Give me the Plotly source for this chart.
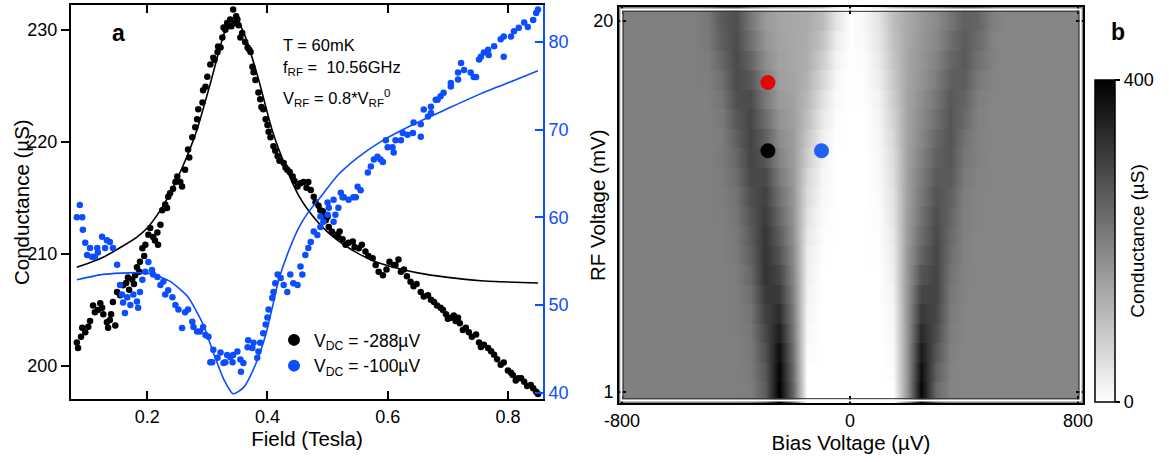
import numpy as np
import plotly.graph_objects as go

# ---------------- panel a : data ----------------
black_field = [0.083,0.085,0.092,0.097,0.102,0.110,0.113,0.118,0.122,0.127,0.133,0.135,0.138,0.143,0.150,0.155,0.160,0.168,0.175,0.180,
               0.183,0.188,0.192,0.197,0.202,0.205,0.210,0.217,0.218,0.225,0.230,0.233,0.235,0.238,0.247,0.255,0.263,0.268,0.275,0.280,
               0.285,0.292,0.293,0.300,0.305,0.310,0.317,0.318,0.325,0.327,0.333,0.343,0.338,0.348,0.352,0.358,0.363,0.367,0.372,0.375,
               0.380,0.385,0.388,0.393,0.397,0.405,0.410,0.417,0.427,0.433,0.442,0.450,0.460,0.472,0.477,0.480,0.488,0.492,0.497,0.500,
               0.502,0.513,0.525,0.530,0.542,0.552,0.563,0.575,0.585,0.592,0.610,0.618,0.627,0.638,0.643,0.655,0.667,0.677,0.688,0.697,
               0.705,0.717,0.725,0.735,0.747,0.755,0.767,0.777,0.788,0.800,0.808,0.817,0.827,0.838,0.847,
               0.632,0.648,0.660,0.672,0.682,0.692,0.700,0.710,0.713,0.720,0.730,0.740,0.752,0.760,0.772,0.782,0.793,0.805,0.813,0.822,
               0.832,0.842,0.850,0.485,0.495,0.507,0.518,0.520,0.535,0.545,0.557,0.568,0.580,0.598,0.603,0.613,0.622,
               0.090,0.105,0.125,0.140,0.147,0.165,0.170,0.178,0.187,0.195,0.213,0.222,0.243,0.250,0.258,0.270,0.283,0.297,0.312,0.322,
               0.330,0.335,0.340,0.345,0.350,0.355,0.370,0.377,0.390,0.400,0.402,0.413,0.420,0.430,0.437,0.445,0.455,0.465,0.468]
black_g = [202.1,201.6,203.4,203.0,203.5,205.4,204.8,205.0,205.6,204.6,203.9,203.4,204.1,205.7,206.6,206.3,207.2,207.9,207.7,208.1,
           208.8,209.3,210.5,210.8,211.7,212.3,211.5,211.9,210.8,213.9,214.4,214.1,215.1,215.4,216.4,216.4,217.5,219.3,220.4,221.3,
           222.9,223.5,224.6,225.8,226.9,227.5,228.0,228.5,229.3,230.2,230.6,231.8,230.9,231.2,230.4,229.7,228.9,228.4,228.0,226.7,
           225.5,224.4,223.8,222.9,222.0,220.4,219.6,218.7,218.1,217.5,216.9,216.0,216.4,215.7,215.1,214.6,213.9,213.8,213.0,213.3,
           212.4,211.7,211.3,210.8,211.1,210.5,210.2,209.6,208.4,208.1,209.0,209.5,208.6,207.5,207.1,206.6,206.3,205.7,205.2,204.6,
           204.3,204.3,203.2,203.0,202.8,201.7,201.6,201.0,200.1,199.6,199.2,198.9,198.6,198.3,197.7,
           208.0,207.3,206.2,205.9,205.4,205.0,204.2,204.5,204.0,203.8,203.4,202.6,202.1,201.9,201.3,200.6,200.3,199.4,198.7,198.9,
           198.2,198.0,197.5,214.3,213.5,212.0,211.5,212.0,211.0,210.6,210.8,209.8,209.0,208.6,209.3,209.0,208.4,
           202.6,204.0,205.2,204.6,203.6,207.4,206.8,207.3,208.4,209.8,211.2,212.6,215.8,216.9,216.0,218.6,222.0,224.9,227.3,228.4,
           230.0,230.3,230.3,230.6,230.9,229.3,228.2,226.2,223.1,221.5,220.9,219.2,218.3,217.7,217.3,216.5,216.3,215.9,216.4]

blue_field = [0.088,0.083,0.092,0.093,0.097,0.100,0.105,0.108,0.113,0.117,0.118,0.125,0.130,0.133,0.138,0.143,0.150,0.155,0.158,0.160,
              0.163,0.167,0.172,0.177,0.183,0.185,0.188,0.192,0.197,0.202,0.208,0.210,0.217,0.222,0.227,0.230,0.235,0.242,0.247,0.252,
              0.258,0.263,0.268,0.275,0.277,0.283,0.288,0.293,0.297,0.302,0.305,0.308,0.310,0.317,0.322,0.327,0.330,0.333,0.338,0.342,
              0.343,0.350,0.355,0.356,0.360,0.367,0.368,0.375,0.377,0.383,0.385,0.388,0.393,0.397,0.400,0.402,0.408,0.410,0.413,0.417,
              0.422,0.427,0.433,0.438,0.443,0.450,0.455,0.458,0.463,0.468,0.472,0.477,0.483,0.488,0.493,0.500,0.502,0.510,0.513,0.518,
              0.525,0.535,0.547,0.488,0.500,0.510,0.522,0.527,0.543,0.550,0.555,0.567,0.572,0.577,0.583,0.588,0.597,0.600,0.608,0.613,
              0.625,0.633,0.642,0.643,0.655,0.660,0.667,0.672,0.680,0.688,0.693,0.705,0.717,0.722,0.727,0.738,0.743,0.752,0.760,0.768,
              0.777,0.788,0.793,0.805,0.810,0.818,0.827,0.833,0.842,0.847,0.850,
              0.592,0.610,0.622,0.655,0.672,0.683,0.705,0.717,0.747,0.755,0.767,0.793]
blue_v = [61.4,60.0,60.0,58.6,57.1,55.7,56.5,55.5,55.5,56.5,56.0,57.8,56.5,57.4,57.2,56.5,54.6,52.3,51.2,50.3,
          49.1,50.9,50.0,51.2,50.4,49.7,51.5,52.9,53.8,54.9,54.0,53.5,53.2,52.3,52.7,51.2,51.7,50.9,50.0,49.5,
          47.4,49.2,49.5,48.1,47.5,47.0,47.0,47.5,46.6,46.4,43.5,43.5,44.9,44.0,44.6,43.4,43.5,44.3,44.1,43.5,
          44.3,44.7,43.8,42.4,43.4,45.2,46.0,45.1,45.7,44.0,44.7,45.7,46.8,47.8,48.6,49.5,50.8,51.5,52.5,53.5,
          53.1,52.3,51.5,53.5,52.5,52.3,54.4,53.5,55.7,56.5,57.2,58.4,58.0,58.9,59.5,60.3,61.1,59.5,60.3,61.1,
          62.3,62.0,62.3,60.1,61.7,62.0,62.8,62.3,62.3,63.5,63.1,65.1,65.8,66.6,66.9,66.6,68.8,68.0,68.0,68.8,
          69.6,69.4,69.6,70.8,70.6,72.3,71.5,72.6,73.4,73.8,74.2,75.3,76.5,77.6,76.8,76.5,76.0,78.0,78.8,78.5,
          79.5,80.3,80.6,80.6,81.2,81.6,82.2,81.7,82.5,83.3,83.7,
          66.3,67.4,68.8,69.2,71.9,73.4,74.9,75.7,76.0,78.3,79.1,78.3]

black_fit_field = [0.083,0.127,0.183,0.200,0.222,0.240,0.260,0.283,0.305,0.322,0.333,0.342,0.350,0.363,0.385,0.408,0.430,0.452,
                   0.475,0.497,0.525,0.552,0.580,0.610,0.650,0.700,0.755,0.850]
black_fit_g = [208.8,209.7,211.5,212.3,213.9,215.6,217.9,221.1,225.2,228.6,230.4,231.0,230.8,229.4,225.6,221.0,217.8,215.2,
               213.4,212.1,210.9,210.0,209.3,208.8,208.3,207.9,207.6,207.4]
blue_fit_field = [0.083,0.127,0.183,0.210,0.238,0.267,0.293,0.310,0.327,0.343,0.360,0.380,0.397,0.408,0.418,0.435,0.452,0.468,
                  0.488,0.517,0.550,0.588,0.643,0.700,0.755,0.810,0.850]
blue_fit_v = [52.9,53.5,53.7,53.5,52.7,51.0,47.8,44.6,41.6,39.9,40.6,43.2,46.6,49.7,52.7,56.1,58.8,60.6,
              62.3,64.8,66.8,68.6,70.6,72.4,74.1,75.6,76.7]

# ---------------- panel b : data ----------------
bias_uV = [-800,-750,-700,-650,-600,-550,-500,-450,-400,-350,-300,-250,-200,-150,-100,-50,0,
           50,100,150,200,250,300,350,400,450,500,550,600,650,700,750,800]
rf_mV = list(range(1, 21))
conductance = [
    [200]*8 + [200,202,255,400,240,0, 0,0,0,0,0, 0,165,390,235,193] + [190]*9,
    [200]*8 + [200,205,262,392,230,0, 0,0,0,0,0, 5,165,378,250,196] + [190]*9,
    [200]*8 + [200,208,272,378,222,5, 0,0,0,0,0, 8,165,360,265,200] + [190]*9,
    [200]*8 + [201,212,285,355,212,10, 0,0,0,0,0, 12,165,335,280,204, 191] + [190]*8,
    [200]*8 + [202,218,298,330,205,15, 0,0,0,0,0, 15,165,312,290,208, 192] + [190]*8,
    [200]*8 + [203,225,310,310,198,20, 0,0,0,0,0, 20,164,292,294,214, 193] + [190]*8,
    [200]*8 + [205,235,320,290,190,25, 0,0,0,0,0, 25,162,268,294,220, 194] + [190]*8,
    [200]*8 + [208,245,320,272,182,30, 2,0,0,0,2, 30,160,245,290,228, 196] + [190]*8,
    [200]*8 + [210,255,316,255,175,38, 5,0,0,0,4, 35,155,232,285,235, 198,191] + [190]*7,
    [200]*7 + [202, 214,265,308,240,170,45, 8,0,0,0,6, 40,152,222,278,242, 200,192] + [190]*7,
    [200]*7 + [203, 220,275,298,225,165,55, 12,0,0,0,8, 45,150,212,270,250, 203,193] + [190]*7,
    [200]*7 + [205, 228,285,285,210,160,65, 16,0,0,0,10, 50,148,205,260,258, 208,195] + [190]*7,
    [200]*7 + [208, 238,292,268,195,158,78, 20,0,0,0,12, 55,146,196,248,265, 215,197] + [190]*7,
    [200]*7 + [205, 250,294,250,182,155,90, 28,2,0,0,15, 62,145,188,238,268, 222,195] + [190]*7,
    [200]*7 + [210, 262,290,230,170,150,102, 38,5,0,0,18, 70,143,182,226,266, 235,198] + [190]*7,
    [200]*7 + [218, 275,282,212,160,146,112, 50,8,0,2,22, 78,142,176,215,260, 245,202,191] + [190]*6,
    [200]*6 + [202,228, 282,265,195,152,142,120, 65,12,0,4,28, 85,140,170,205,250, 255,210,193] + [190]*6,
    [200]*6 + [205,240, 283,245,180,148,140,126, 80,20,0,6,34, 92,139,166,196,238, 260,222,196] + [190]*6,
    [200]*6 + [210,252, 280,228,168,145,138,130, 95,30,2,9,40, 98,137,163,188,226, 258,232,195] + [190]*6,
    [200]*6 + [215,260, 276,215,160,142,136,132, 108,42,4,12,45, 102,135,160,182,215, 250,242,200] + [190]*6,
]
dot_bias = [-288, -288, -100]
dot_rf = [16.85, 13.36, 13.36]
dot_colors = ["#dd0a0a", "#000000", "#1f62f0"]

BLUE = "#0b4dff"
FONT = "Liberation Sans, Arial, sans-serif"
TICK = 18
TITLE = 20.5

fig = go.Figure()

# panel a traces
fig.add_trace(go.Scatter(x=blue_field, y=blue_v, mode="markers", yaxis="y2", xaxis="x",
                         marker=dict(color=BLUE, size=6.5), name="V<sub>DC</sub> = -100µV"))
fig.add_trace(go.Scatter(x=black_field, y=black_g, mode="markers", xaxis="x", yaxis="y",
                         marker=dict(color="black", size=6.5), name="V<sub>DC</sub> = -288µV"))
fig.add_trace(go.Scatter(x=black_fit_field, y=black_fit_g, mode="lines", xaxis="x", yaxis="y",
                         line=dict(color="black", width=1.6, shape="spline", smoothing=0.6), showlegend=False))
fig.add_trace(go.Scatter(x=blue_fit_field, y=blue_fit_v, mode="lines", xaxis="x", yaxis="y2",
                         line=dict(color=BLUE, width=1.6, shape="spline", smoothing=0.6), showlegend=False))

# panel b heatmap: rows kept as flat bands (each row repeated at its lower and upper edge)
z = np.array(conductance, dtype=float)
z_rep = np.repeat(z, 2, axis=0)
y_rep = []
for r in rf_mV:
    y_rep += [r - 0.49, r + 0.49]
fig.add_trace(go.Heatmap(
    x=bias_uV, y=y_rep, z=z_rep, xaxis="x2", yaxis="y3",
    zmin=0, zmax=400, zsmooth="best",
    colorscale=[[0, "#ffffff"], [1, "#000000"]],
    colorbar=dict(
        x=1095/1169, xanchor="left", xpad=0, y=1-241/462, yanchor="middle",
        len=322/462, lenmode="fraction", thickness=20, thicknessmode="pixels",
        outlinewidth=1.5, outlinecolor="black", ypad=0,
        tickvals=[0, 400], ticks="outside", ticklen=5, tickwidth=1.5, tickcolor="black",
        tickfont=dict(size=TICK, color="black", family=FONT),
        title=dict(text="Conductance (µS)", side="right", font=dict(size=19, color="black", family=FONT)),
    ),
    showlegend=False,
))
fig.add_trace(go.Scatter(x=dot_bias, y=dot_rf, mode="markers", xaxis="x2", yaxis="y3",
                         marker=dict(color=dot_colors, size=15, symbol="circle"), showlegend=False))

axis_common = dict(showgrid=False, zeroline=False, showline=True, linecolor="black", linewidth=2,
                   tickcolor="black", tickwidth=1.5, automargin=False,
                   tickfont=dict(size=TICK, color="black", family=FONT))

fig.update_layout(
    width=1169, height=462,
    margin=dict(l=0, r=0, t=0, b=0, autoexpand=False),
    paper_bgcolor="white", plot_bgcolor="white",
    font=dict(family=FONT, size=17, color="black"),
    xaxis=dict(domain=[71/1169, 543/1169], range=[0.0733, 0.8583], anchor="y",
               tickvals=[0.2, 0.4, 0.6, 0.8], ticktext=["0.2", "0.4", "0.6", "0.8"], ticks="inside", ticklen=8,
               mirror="ticks", title=dict(text="Field (Tesla)", standoff=5, font=dict(size=TITLE)), **axis_common),
    yaxis=dict(domain=[1-399/462, 1-5/462], range=[197.05, 232.2], anchor="x",
               tickvals=[200, 210, 220, 230], ticks="outside", ticklen=8, **axis_common),
    yaxis2=dict(overlaying="y", side="right", anchor="x", range=[39.3, 84.2],
                tickvals=[40, 50, 60, 70, 80], ticks="inside", ticklen=8, automargin=False,
                showgrid=False, zeroline=False, showline=True, linecolor=BLUE, linewidth=2,
                tickcolor=BLUE, tickwidth=1.5, tickfont=dict(size=TICK, color=BLUE, family=FONT)),
    xaxis2=dict(domain=[619/1169, 1083/1169], range=[-810.5, 817.5], anchor="y3",
                tickvals=[-800, 0, 800], ticktext=["-800", "0", "800"], ticks="inside", ticklen=7, mirror="ticks",
                title=dict(text="Bias Voltage (µV)", standoff=3, font=dict(size=TITLE)), **axis_common),
    yaxis3=dict(domain=[1-403/462, 1-7/462], range=[0.437, 20.72], anchor="x2",
                tickvals=[1, 20], ticks="inside", ticklen=7, mirror="ticks", **axis_common),
    legend=dict(x=274/1169, y=1-322/462, xanchor="left", yanchor="top", bgcolor="rgba(0,0,0,0)",
                font=dict(size=17.5, family=FONT), traceorder="reversed", itemsizing="constant",
                tracegroupgap=0),
    showlegend=True,
)

# inner white + thin dark frame of the image panel
fig.add_shape(type="rect", xref="x2 domain", yref="y3 domain", x0=0.005, x1=0.995, y0=0.006, y1=0.994,
              line=dict(color="white", width=2), fillcolor="rgba(0,0,0,0)")
fig.add_shape(type="rect", xref="x2 domain", yref="y3 domain", x0=0.009, x1=0.991, y0=0.011, y1=0.989,
              line=dict(color="#333333", width=1), fillcolor="rgba(0,0,0,0)")

ann = []
ann.append(dict(text="Conductance (µS)", x=22/1169, y=1-202/462, xref="paper", yref="paper", showarrow=False,
                textangle=-90, font=dict(size=TITLE, family=FONT), xanchor="center", yanchor="middle"))
ann.append(dict(text="RF Voltage (mV)", x=597/1169, y=1-205/462, xref="paper", yref="paper", showarrow=False,
                textangle=-90, font=dict(size=TITLE, family=FONT), xanchor="center", yanchor="middle"))
ann.append(dict(text="<b>a</b>", x=118/1169, y=1-33/462, xref="paper", yref="paper", showarrow=False,
                font=dict(size=23, family=FONT), xanchor="center", yanchor="middle"))
ann.append(dict(text="<b>b</b>", x=1118/1169, y=1-32/462, xref="paper", yref="paper", showarrow=False,
                font=dict(size=23, family=FONT), xanchor="center", yanchor="middle"))
ann.append(dict(text="T = 60mK", x=281/1169, y=1-45/462, xref="paper", yref="paper", showarrow=False,
                font=dict(size=16.5, family=FONT), xanchor="left", yanchor="middle"))
ann.append(dict(text="f<sub>RF</sub> =  10.56GHz", x=281/1169, y=1-68/462, xref="paper", yref="paper", showarrow=False,
                font=dict(size=16.5, family=FONT), xanchor="left", yanchor="middle"))
ann.append(dict(text="V<sub>RF</sub> = 0.8*V<sub>RF</sub><sup>0</sup>", x=281/1169, y=1-98/462, xref="paper", yref="paper",
                showarrow=False, font=dict(size=16.5, family=FONT), xanchor="left", yanchor="middle"))
fig.update_layout(annotations=ann)

fig.write_html("out.html")
